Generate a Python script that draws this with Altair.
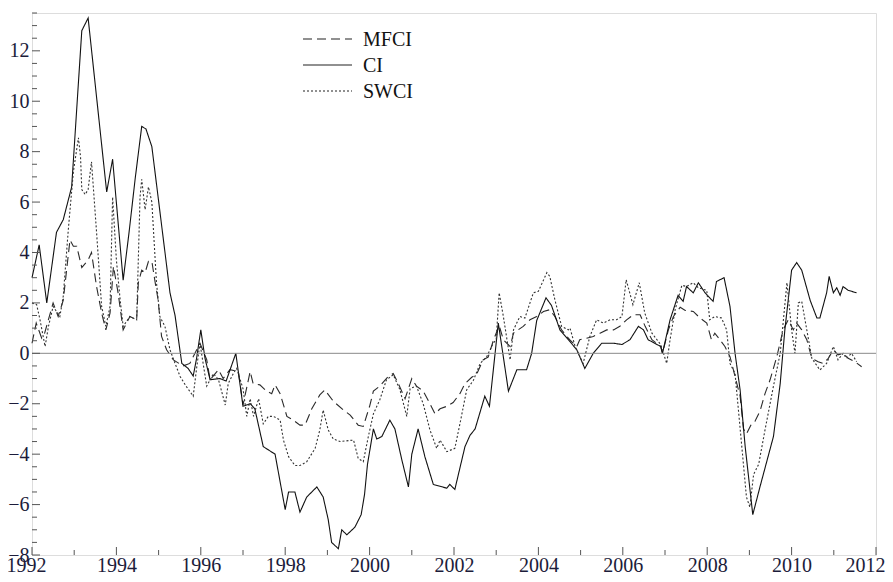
import altair as alt
import pandas as pd

# ---------------- data ----------------
ci_t = [1992.0, 1992.17, 1992.35, 1992.58, 1992.74, 1992.94, 1993.18, 1993.33, 1993.77, 1993.91,
        1994.16, 1994.3, 1994.45, 1994.6, 1994.7, 1994.84, 1995.27, 1995.39, 1995.55, 1995.7,
        1995.82, 1995.9, 1996.0, 1996.1, 1996.22, 1996.45, 1996.6, 1996.83, 1997.0, 1997.17,
        1997.28, 1997.48, 1997.76, 1998.0, 1998.08, 1998.23, 1998.35, 1998.51, 1998.75, 1998.9,
        1999.02, 1999.1, 1999.26, 1999.34, 1999.46, 1999.65, 1999.8, 1999.88, 1999.95, 2000.09,
        2000.17, 2000.29, 2000.48, 2000.6, 2000.76, 2000.92, 2001.0, 2001.15, 2001.31, 2001.51,
        2001.83, 2001.9, 2002.02, 2002.26, 2002.38, 2002.5, 2002.73, 2002.84, 2003.05, 2003.29,
        2003.49, 2003.72, 2003.84, 2003.96, 2004.18, 2004.31, 2004.51, 2004.71, 2004.91, 2005.1,
        2005.3, 2005.5, 2005.78, 2005.98, 2006.17, 2006.37, 2006.49, 2006.6, 2006.9, 2006.94,
        2007.12, 2007.31, 2007.43, 2007.51, 2007.67, 2007.79, 2007.95, 2008.14, 2008.22, 2008.4,
        2008.54, 2008.66, 2008.78, 2008.9, 2009.08, 2009.25, 2009.57, 2009.73, 2009.84, 2010.0,
        2010.12, 2010.24, 2010.44, 2010.6, 2010.67, 2010.83, 2010.89, 2010.99, 2011.07, 2011.15,
        2011.22, 2011.34, 2011.54]
ci_v = [3.0, 4.3, 2.0, 4.8, 5.3, 6.6, 12.8, 13.3, 6.4, 7.7,
        2.9, 4.8, 7.0, 9.0, 8.9, 8.2, 2.4, 1.5, -0.4, -0.6,
        -0.9, -0.2, 0.93, -0.2, -1.05, -1.0, -1.1, 0.0, -2.1, -2.0,
        -2.2, -3.7, -4.0, -6.2, -5.5, -5.5, -6.3, -5.7, -5.3, -5.7,
        -6.6, -7.5, -7.75, -7.0, -7.2, -6.9, -6.4, -5.6, -4.4, -3.0,
        -3.4, -3.3, -2.65, -3.0, -4.2, -5.3, -4.0, -3.0, -4.1, -5.2,
        -5.35, -5.2, -5.4, -3.7, -3.25, -3.0, -1.7, -2.1, 1.2, -1.5,
        -0.65, -0.65, 0.0, 1.3, 2.2, 1.9, 0.93, 0.54, 0.14, -0.6,
        0.0, 0.4, 0.4, 0.35, 0.54, 1.07, 0.93, 0.54, 0.27, 0.0,
        1.33, 2.3, 2.06, 2.65, 2.4, 2.8, 2.4, 2.06, 2.85, 3.0,
        1.86, 0.0, -1.45, -3.7, -6.4, -5.3, -3.3, -1.2, 0.93, 3.3,
        3.6, 3.3, 2.1, 1.4, 1.4, 2.4, 3.05, 2.4, 2.6, 2.3,
        2.65, 2.5, 2.4]

mfci_t = [1992.0, 1992.1, 1992.23, 1992.3, 1992.5, 1992.62, 1992.74, 1992.9, 1992.98, 1993.06,
          1993.18, 1993.33, 1993.41, 1993.53, 1993.65, 1993.75, 1993.85, 1993.93, 1994.04, 1994.16,
          1994.32, 1994.48, 1994.52, 1994.6, 1994.68, 1994.76, 1994.84, 1994.91, 1994.99, 1995.07,
          1995.19, 1995.35, 1995.58, 1995.74, 1995.98, 1996.14, 1996.22, 1996.42, 1996.53, 1996.69,
          1996.89, 1997.0, 1997.17, 1997.24, 1997.4, 1997.56, 1997.68, 1997.76, 1997.88, 1998.04,
          1998.19, 1998.35, 1998.47, 1998.63, 1998.82, 1998.94, 1999.14, 1999.38, 1999.54, 1999.73,
          1999.85, 2000.0, 2000.09, 2000.24, 2000.44, 2000.56, 2000.68, 2000.84, 2001.0, 2001.11,
          2001.27, 2001.43, 2001.55, 2001.67, 2001.83, 2001.98, 2002.14, 2002.26, 2002.42, 2002.53,
          2002.69, 2002.81, 2002.93, 2003.07, 2003.17, 2003.33, 2003.41, 2003.64, 2003.8, 2003.96,
          2004.12, 2004.27, 2004.39, 2004.55, 2004.74, 2004.91, 2004.98, 2005.14, 2005.3, 2005.46,
          2005.62, 2005.78, 2005.93, 2006.09, 2006.25, 2006.41, 2006.53, 2006.69, 2006.9, 2006.94,
          2007.08, 2007.2, 2007.36, 2007.48, 2007.67, 2007.83, 2007.99, 2008.1, 2008.18, 2008.3,
          2008.42, 2008.54, 2008.66, 2008.78, 2008.86, 2008.93, 2009.05, 2009.13, 2009.25, 2009.37,
          2009.49, 2009.65, 2009.8, 2009.92, 2010.04, 2010.12, 2010.24, 2010.36, 2010.48, 2010.63,
          2010.75, 2010.87, 2010.99, 2011.1, 2011.22, 2011.34, 2011.5, 2011.66]
mfci_v = [0.4, 1.2, 0.6, 0.8, 2.0, 1.46, 2.1, 4.5, 4.25, 4.25,
          3.4, 3.7, 4.0, 2.65, 1.6, 0.93, 1.6, 3.45, 2.4, 0.93,
          1.46, 1.33, 2.8, 3.3, 3.2, 3.65, 3.65, 2.9, 2.1, 0.67,
          0.14, -0.26, -0.5, -0.4, 0.4, -0.25, -1.05, -0.65, -1.0, -0.65,
          -0.72, -2.05, -0.72, -1.2, -1.25, -1.5, -1.6, -1.25, -1.6, -2.5,
          -2.65, -2.85, -2.85, -2.2, -1.65, -1.45, -1.9, -2.25, -2.45, -2.85,
          -2.9, -2.1, -1.5, -1.3, -0.92, -0.8, -1.2, -1.8, -1.0, -1.3,
          -1.5, -2.0, -2.4, -2.2, -2.1, -1.95, -1.6, -1.2, -0.95, -0.85,
          -0.26, -0.15, 0.5, 1.1, 0.54, 0.27, 0.8, 1.07, 1.33, 1.46,
          1.66, 1.73, 1.46, 0.93, 0.54, 0.27, 0.54, 0.6, 0.67, 0.8,
          0.93, 0.93, 1.07, 1.33, 1.53, 1.53, 1.07, 0.54, 0.27, 0.0,
          0.93, 1.46, 1.83, 1.7, 1.66, 1.4, 1.2, 0.54, 0.8, 0.54,
          0.27, -0.13, -0.92, -1.7, -3.0, -3.2, -2.8, -2.7, -2.3, -1.6,
          -1.05, -0.13, 0.93, 1.33, 0.93, 1.2, 0.93, 0.54, -0.2, -0.33,
          -0.4, -0.2, 0.14, -0.06, 0.0, -0.2, -0.33, -0.53]

swci_t = [1992.0, 1992.11, 1992.19, 1992.31, 1992.39, 1992.5, 1992.66, 1992.74, 1992.86, 1992.98,
          1993.1, 1993.15, 1993.18, 1993.26, 1993.33, 1993.41, 1993.53, 1993.65, 1993.75, 1993.85,
          1993.91, 1994.0, 1994.09, 1994.16, 1994.32, 1994.48, 1994.56, 1994.6, 1994.68, 1994.76,
          1994.84, 1994.95, 1995.03, 1995.15, 1995.27, 1995.39, 1995.51, 1995.65, 1995.82, 1995.9,
          1995.98, 1996.14, 1996.3, 1996.42, 1996.58, 1996.65, 1996.77, 1996.85, 1997.0, 1997.09,
          1997.17, 1997.25, 1997.37, 1997.48, 1997.6, 1997.72, 1997.88, 1997.96, 1998.08, 1998.23,
          1998.35, 1998.51, 1998.71, 1998.82, 1998.9, 1999.02, 1999.14, 1999.3, 1999.62, 1999.73,
          1999.85, 1999.97, 2000.09, 2000.24, 2000.4, 2000.56, 2000.72, 2000.88, 2000.96, 2001.11,
          2001.27, 2001.43, 2001.59, 2001.67, 2001.83, 2002.02, 2002.14, 2002.3, 2002.46, 2002.62,
          2002.77, 2002.93, 2003.0, 2003.07, 2003.17, 2003.33, 2003.41, 2003.56, 2003.68, 2003.88,
          2004.0, 2004.2, 2004.27, 2004.39, 2004.55, 2004.71, 2004.75, 2004.87, 2005.06, 2005.22,
          2005.38, 2005.54, 2005.7, 2005.85, 2005.98, 2006.08, 2006.24, 2006.39, 2006.52, 2006.69,
          2006.9, 2007.04, 2007.12, 2007.24, 2007.4, 2007.51, 2007.67, 2007.79, 2007.99, 2008.06,
          2008.18, 2008.34, 2008.46, 2008.54, 2008.66, 2008.74, 2008.82, 2008.93, 2009.01, 2009.1,
          2009.22, 2009.37, 2009.57, 2009.73, 2009.89, 2010.0, 2010.08, 2010.16, 2010.24, 2010.36,
          2010.48, 2010.67, 2010.83, 2010.99, 2011.1, 2011.22, 2011.3, 2011.42, 2011.54]
swci_v = [2.0, 1.93, 1.33, 0.27, 1.07, 1.86, 1.46, 2.26, 4.9, 7.2,
          8.55, 7.8, 6.5, 6.3, 6.5, 7.6, 4.8, 1.86, 1.07, 1.86,
          6.2, 3.7, 2.1, 1.07, 1.46, 1.33, 6.2, 6.9, 5.7, 6.6,
          6.0, 2.8, 1.46, 1.07, 0.14, -0.4, -0.92, -1.3, -1.7, -0.6,
          0.4, -1.3, -0.8, -1.05, -2.05, -1.2, -0.8, -0.6, -1.4, -2.5,
          -1.8, -2.5, -1.8, -2.8, -2.5, -2.5, -2.65, -3.45, -4.1, -4.45,
          -4.45, -4.3, -3.77, -3.04, -2.25, -3.04, -3.4, -3.5, -3.44, -4.17,
          -4.3, -3.3, -2.4, -1.85, -1.05, -0.85, -1.45, -2.5, -1.4, -1.3,
          -2.0, -3.04, -3.77, -3.44, -3.9, -3.77, -2.8, -1.45, -1.07, -0.4,
          -0.15, 0.4, 0.54, 2.4, 1.46, -0.26, 0.93, 1.46, 1.4, 2.4,
          2.46, 3.2, 3.05, 2.13, 1.07, 0.93, 1.0, 0.27, -0.4, 0.67,
          1.33, 1.2, 1.33, 1.33, 1.46, 2.92, 1.93, 2.8, 1.6, 0.8,
          0.34, -0.4, 0.54, 1.73, 2.7, 2.65, 2.8, 2.6, 2.5, 1.33,
          1.46, 1.4, 0.93, -0.4, -0.8, -2.25, -3.7, -5.7, -6.1, -4.8,
          -4.4, -3.04, -1.3, 0.0, 2.8, 0.93, 0.0, 2.0, 2.06, 0.93,
          -0.2, -0.66, -0.4, 0.27, -0.26, 0.0, -0.2, 0.0, -0.33]

series_names = ["MFCI", "CI", "SWCI"]
x_major = list(range(1992, 2013, 2))
x_minor = list(range(1993, 2012, 2))
y_major = list(range(-8, 13, 2))
y_minor = [k / 2 for k in range(-16, 28) if k % 4 != 0]

# ---------------- build table ----------------
frames = []
for name, t, v in [("MFCI", mfci_t, mfci_v), ("CI", ci_t, ci_v), ("SWCI", swci_t, swci_v)]:
    frames.append(pd.DataFrame({"series": name, "t": t, "v": v}))
df = pd.concat(frames, ignore_index=True)

W, H = 844, 542
FONT = "Liberation Serif"
LABEL_COLOR = "#1c1c3a"
xs = alt.Scale(domain=[1992, 2012], nice=False, zero=False)
ys = alt.Scale(domain=[-8, 13.5], nice=False, zero=False)
x_axis = alt.Axis(values=x_major, format="d", grid=False, domain=False, ticks=False,
                  labelFont=FONT, labelFontSize=20, labelColor=LABEL_COLOR,
                  labelPadding=0, labelFlush=False, title=None,
                  labelAlign=alt.ExprRef(expr="datum.value == 2012 ? 'right' : 'center'"),
                  labelOffset=alt.ExprRef(expr="datum.value == 2012 ? 9 : (datum.value == 1992 ? -6 : 0)"))
y_axis = alt.Axis(values=y_major, format="d", grid=False, domain=False, ticks=False,
                  labelFont=FONT, labelFontSize=20, labelColor=LABEL_COLOR,
                  labelPadding=3, labelFlush=False, title=None)

lines = alt.Chart(df).mark_line(strokeWidth=1.1, strokeJoin="miter").encode(
    x=alt.X("t:Q", scale=xs, axis=x_axis, title=None),
    y=alt.Y("v:Q", scale=ys, axis=y_axis, title=None),
    color=alt.Color("series:N", scale=alt.Scale(domain=series_names,
                                                range=["#2a2a2a", "#111111", "#333333"]), legend=None),
    strokeDash=alt.StrokeDash("series:N", scale=alt.Scale(domain=series_names,
                                                          range=[[9, 5], [1, 0], [2, 2]]), legend=None),
)

zero = alt.Chart(pd.DataFrame({"v": [0]})).mark_rule(color="#8a8a8a", strokeWidth=1).encode(
    y=alt.Y("v:Q", scale=ys, axis=y_axis, title=None)
)

tick_color = "#555555"
xt_major = alt.Chart(pd.DataFrame({"t": x_major})).mark_rule(color=tick_color, strokeWidth=1).encode(
    x=alt.X("t:Q", scale=xs, axis=x_axis, title=None), y=alt.value(H), y2=alt.value(H - 8))
xt_minor = alt.Chart(pd.DataFrame({"t": x_minor})).mark_rule(color=tick_color, strokeWidth=1).encode(
    x=alt.X("t:Q", scale=xs, axis=x_axis, title=None), y=alt.value(H), y2=alt.value(H - 5))
yt_major = alt.Chart(pd.DataFrame({"v": y_major})).mark_rule(color=tick_color, strokeWidth=1).encode(
    y=alt.Y("v:Q", scale=ys, axis=y_axis, title=None), x=alt.value(0), x2=alt.value(8))
yt_minor = alt.Chart(pd.DataFrame({"v": y_minor})).mark_rule(color=tick_color, strokeWidth=1).encode(
    y=alt.Y("v:Q", scale=ys, axis=y_axis, title=None), x=alt.value(0), x2=alt.value(5))

# ---------------- legend (drawn in the plot, top left) ----------------
leg_rows = [26, 52, 78]
leg_dash = [[9, 5], [1, 0], [2, 2]]
leg_layers = []
for name, yy, dash in zip(series_names, leg_rows, leg_dash):
    leg_layers.append(
        alt.Chart(pd.DataFrame({"s": [name]})).mark_rule(color="#222222", strokeWidth=1.1,
                                                          strokeDash=dash).encode(
            x=alt.value(271), x2=alt.value(320), y=alt.value(yy)))
    leg_layers.append(
        alt.Chart(pd.DataFrame({"s": [name]})).mark_text(align="left", baseline="middle", font=FONT,
                                                          fontSize=20, color="#111111").encode(
            x=alt.value(331), y=alt.value(yy + 1), text="s:N"))

chart = alt.layer(lines, zero, xt_major, xt_minor, yt_major, yt_minor, *leg_layers).properties(
    width=W, height=H,
    autosize=alt.AutoSizeParams(type="none"),
    padding={"left": 24, "top": 5, "right": 9, "bottom": 27},
).configure_view(stroke="#555555", strokeWidth=1.5).configure(background="white")

chart.save("out.html", embed_options={"renderer": "svg", "actions": False})
